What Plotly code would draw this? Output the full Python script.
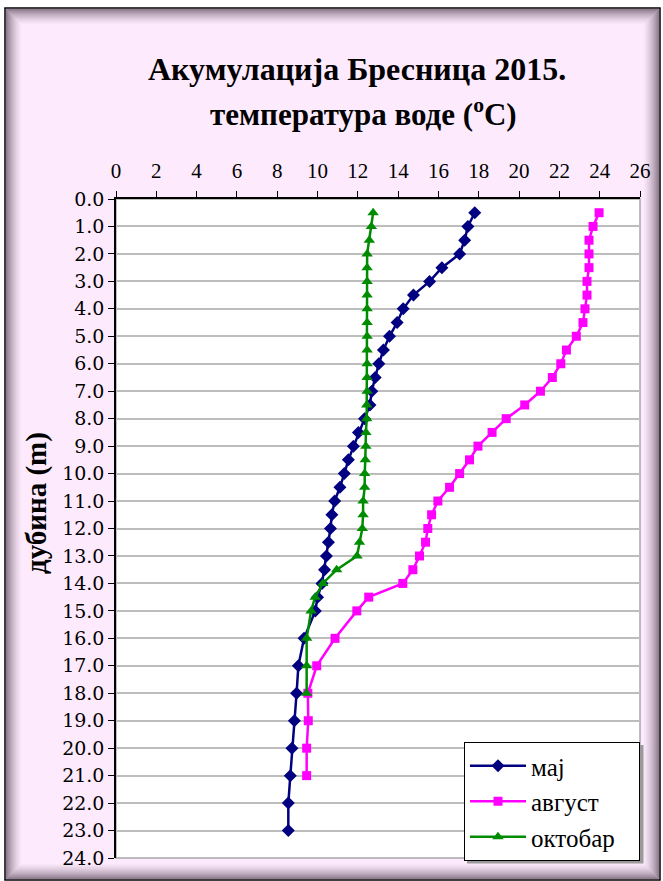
import plotly.graph_objects as go

# ---------------- data ----------------
depth_maj = [0.5, 1.0, 1.5, 2.0, 2.5, 3.0, 3.5, 4.0, 4.5, 5.0, 5.5, 6.0, 6.5, 7.0, 7.5,
             8.0, 8.5, 9.0, 9.5, 10.0, 10.5, 11.0, 11.5, 12.0, 12.5, 13.0, 13.5, 14.0,
             14.5, 15.0, 16.0, 17.0, 18.0, 19.0, 20.0, 21.0, 22.0, 23.0]
temp_maj = [17.8, 17.46, 17.3, 17.05, 16.17, 15.56, 14.76, 14.25, 13.95, 13.57, 13.27,
            13.04, 12.86, 12.69, 12.6, 12.33, 12.03, 11.78, 11.53, 11.33, 11.11, 10.85,
            10.71, 10.64, 10.54, 10.44, 10.35, 10.22, 10.0, 9.89, 9.33, 9.05, 8.96,
            8.85, 8.73, 8.65, 8.55, 8.55]

depth_avg = [0.5, 1.0, 1.5, 2.0, 2.5, 3.0, 3.5, 4.0, 4.5, 5.0, 5.5, 6.0, 6.5, 7.0, 7.5,
             8.0, 8.5, 9.0, 9.5, 10.0, 10.5, 11.0, 11.5, 12.0, 12.5, 13.0, 13.5, 14.0,
             14.5, 15.0, 16.0, 17.0, 18.0, 19.0, 20.0, 21.0]
temp_avg = [23.97, 23.67, 23.47, 23.47, 23.47, 23.37, 23.37, 23.27, 23.17, 22.84, 22.35,
            22.07, 21.65, 21.06, 20.28, 19.36, 18.66, 17.96, 17.54, 17.05, 16.55, 15.97,
            15.66, 15.47, 15.36, 15.06, 14.73, 14.23, 12.54, 11.95, 10.87, 9.96, 9.52,
            9.54, 9.46, 9.46]

depth_okt = [0.5, 1.0, 1.5, 2.0, 2.5, 3.0, 3.5, 4.0, 4.5, 5.0, 5.5, 6.0, 6.5, 7.0, 7.5,
             8.0, 8.5, 9.0, 9.5, 10.0, 10.5, 11.0, 11.5, 12.0, 12.5, 13.0, 13.5, 14.0,
             14.5, 15.0, 16.0, 17.0, 18.0]
temp_okt = [12.76, 12.67, 12.57, 12.46, 12.46, 12.46, 12.46, 12.46, 12.46, 12.46, 12.46,
            12.46, 12.46, 12.46, 12.44, 12.44, 12.4, 12.4, 12.37, 12.34, 12.34, 12.26,
            12.26, 12.22, 12.08, 11.96, 10.95, 10.26, 9.88, 9.68, 9.46, 9.46, 9.46]

series_names = ["мај", "август", "октобар"]
title_lines = ["Акумулација Бресница 2015.", "температура воде (<sup>o</sup>C)"]
y_title = "дубина (m)"

# ---------------- layout geometry (pixels) ----------------
W, H = 663, 881
PL, PR, PT, PB = 116, 640, 199, 858
pw, ph = PR - PL, PB - PT


def xp(px):
    return (px - PL) / pw


def yp(py):
    return 1 - (py - PT) / ph


FONT = "Liberation Serif"
PAD = "\u00a0" * 3  # trailing space so the legend box is as wide as in the reference

fig = go.Figure()
fig.add_trace(go.Scatter(x=temp_maj, y=depth_maj, name=series_names[0] + PAD, mode="lines+markers",
                         line=dict(color="#000080", width=2.5),
                         marker=dict(symbol="diamond", size=10, color="#000080")))
fig.add_trace(go.Scatter(x=temp_avg, y=depth_avg, name=series_names[1] + PAD, mode="lines+markers",
                         line=dict(color="#FF00FF", width=2.5),
                         marker=dict(symbol="square", size=9, color="#FF00FF")))
fig.add_trace(go.Scatter(x=temp_okt, y=depth_okt, name=series_names[2] + PAD, mode="lines+markers",
                         line=dict(color="#008C00", width=2.5),
                         marker=dict(symbol="triangle-up", size=10, color="#008C00")))

shapes = []
# outer pink frame
shapes.append(dict(type="rect", xref="paper", yref="paper", layer="below",
                   x0=xp(5), x1=xp(660), y0=yp(880), y1=yp(8),
                   fillcolor="#FDEBFD", line=dict(color="black", width=1.5)))
# inner shadow gradient
N = 16
for i in range(N):
    a = 0.6 * (1 - i / N) ** 1.5
    shapes.append(dict(type="rect", xref="paper", yref="paper", layer="below",
                       x0=xp(6.5 + i), x1=xp(658.5 - i), y0=yp(878.5 - i), y1=yp(9.5 + i),
                       fillcolor="rgba(0,0,0,0)",
                       line=dict(color=f"rgba(70,50,70,{a:.3f})", width=1)))
# white plot area with gray border
shapes.append(dict(type="rect", xref="paper", yref="paper", layer="below",
                   x0=0, x1=1, y0=0, y1=1, fillcolor="white",
                   line=dict(color="#A8A8A8", width=1.5)))
# legend drop shadow (legend box is drawn on top of it)
shapes.append(dict(type="rect", xref="paper", yref="paper", layer="above",
                   x0=xp(467), x1=xp(643.5), y0=yp(863.5), y1=yp(745),
                   fillcolor="#9A9A9A", line=dict(width=0)))

annotations = [
    dict(text=f"<b>{title_lines[0]}</b>", xref="paper", yref="paper", x=xp(357), y=yp(69),
         xanchor="center", yanchor="middle", showarrow=False,
         font=dict(family=FONT, size=32, color="black")),
    dict(text=f"<b>{title_lines[1]}</b>", xref="paper", yref="paper", x=xp(363), y=yp(113),
         xanchor="center", yanchor="middle", showarrow=False,
         font=dict(family=FONT, size=31, color="black")),
    dict(text=f"<b>{y_title}</b>", xref="paper", yref="paper", x=xp(37), y=yp(503),
         xanchor="center", yanchor="middle", showarrow=False, textangle=-90,
         font=dict(family=FONT, size=29, color="black")),
]

fig.update_layout(
    width=W, height=H,
    margin=dict(l=PL, r=W - PR, t=PT, b=H - PB, pad=0, autoexpand=False),
    paper_bgcolor="white", plot_bgcolor="rgba(0,0,0,0)",
    shapes=shapes, annotations=annotations,
    showlegend=True,
    legend=dict(x=xp(464), y=yp(742), xanchor="left", yanchor="top",
                bgcolor="white", bordercolor="black", borderwidth=1,
                font=dict(family=FONT, size=25, color="black"),
                tracegroupgap=0, itemwidth=56),
    font=dict(family=FONT, color="black"),
)

fig.update_xaxes(side="top", range=[0, 26], dtick=2, tick0=0, showgrid=False,
                 showline=True, linecolor="black", linewidth=1.5,
                 ticks="outside", ticklen=6, tickcolor="black", tickwidth=1,
                 ticklabelstandoff=5,
                 tickfont=dict(family=FONT, size=21, color="black"), zeroline=False)
fig.update_yaxes(range=[24, 0], dtick=1, tick0=0, tickformat=".1f",
                 showgrid=True, gridcolor="#BDBDBD", gridwidth=1.5,
                 showline=True, linecolor="black", linewidth=1.5,
                 ticks="outside", ticklen=6, tickcolor="black", tickwidth=1,
                 tickfont=dict(family="DejaVu Serif", size=19, color="black"), zeroline=False)

fig.write_html("out.html", config={"displayModeBar": False},
               post_script="document.body.style.margin='0';document.body.style.overflow='hidden';")
